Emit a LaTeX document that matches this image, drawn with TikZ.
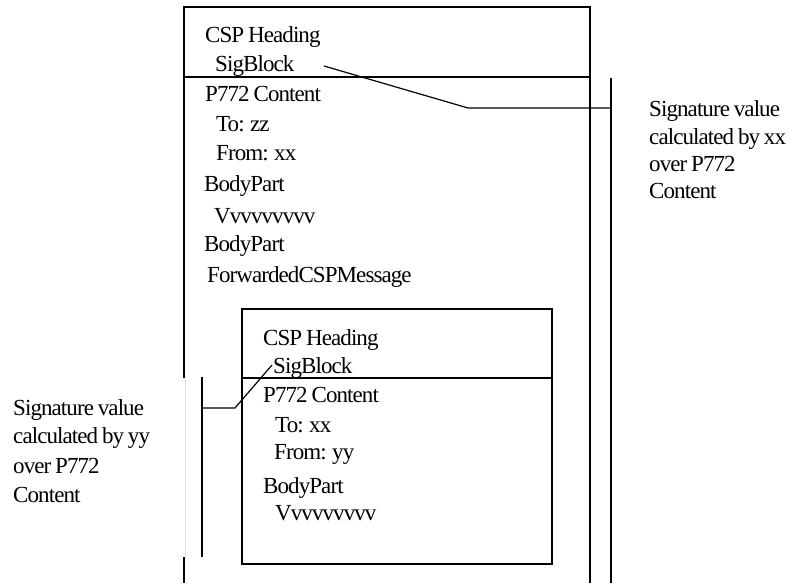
\documentclass[tikz,border=0pt]{standalone}
\usepackage{fontspec}
\setmainfont{Liberation Serif}[LetterSpace=-4,WordSpace=0.8]
\begin{document}
\begin{tikzpicture}[x=1pt,y=-1pt,
  txt/.style={anchor=base west,inner sep=0pt,font=\fontsize{23}{26}\selectfont},
  ln/.style={line width=1.5pt,black},
  faint/.style={line width=0.8pt,black!12}]
\useasboundingbox (0,0) rectangle (794,583);
% outer box
\draw[ln] (184,378) -- (184,7) -- (590,7) -- (590,583);
\draw[ln] (184,557) -- (184,583);
\draw[faint] (185,378) -- (185,557);
\draw[ln] (184,77) -- (590,77);
% outer texts
\node[txt] (oh) at (205,43) {CSP Heading};
\node[txt] (osig) at (215,72) {SigBlock};
\node[txt] (oc) at (205,102) {P772 Content};
\node[txt] (oto) at (216,131) {To: zz};
\node[txt] (ofr) at (216,160) {From: xx};
\node[txt] (ob1) at (204,191) {BodyPart};
\node[txt] (ov) at (214,223) {Vvvvvvvvv};
\node[txt] (ob2) at (204,251) {BodyPart};
\node[txt] (ofw) at (207,282) {ForwardedCSPMessage};
% inner box
\draw[ln] (242,309) rectangle (552,564);
\draw[ln] (242,378) -- (552,378);
\node[txt] (ih) at (263,345) {CSP Heading};
\node[txt] (isig) at (273,373) {SigBlock};
\node[txt] (ic) at (263,402) {P772 Content};
\node[txt] (ito) at (275,432) {To: xx};
\node[txt] (ifr) at (274,459) {From: yy};
\node[txt] (ib) at (263,493) {BodyPart};
\node[txt] (iv) at (275,520) {Vvvvvvvvv};
% right annotation
\node[txt] (r1) at (649,117) {Signature value};
\node[txt] (r2) at (649,144) {calculated by xx};
\node[txt] (r3) at (649,171) {over P772};
\node[txt] (r4) at (649,198) {Content};
\coordinate (rtop) at (611,78);
\coordinate (rbot) at (611,583);
\coordinate (rmid) at (611,108);
\coordinate (rbend) at (468,108);
\coordinate (osigend) at (324,66);
\draw[ln] (rtop) -- (rbot);
\draw[line width=1.2pt] (osigend) -- (rbend) -- (rmid);
% left annotation
\node[txt] (l1) at (13,415) {Signature value};
\node[txt] (l2) at (13,443) {calculated by yy};
\node[txt] (l3) at (13,473) {over P772};
\node[txt] (l4) at (13,502) {Content};
\coordinate (ltop) at (202,377);
\coordinate (lbot) at (202,557);
\coordinate (lmid) at (202,408);
\coordinate (lbend) at (235,408);
\coordinate (isigstart) at (272,365);
\draw[ln] (ltop) -- (lbot);
\draw[line width=1.2pt] (lmid) -- (lbend) -- (isigstart);
\end{tikzpicture}
\end{document}
